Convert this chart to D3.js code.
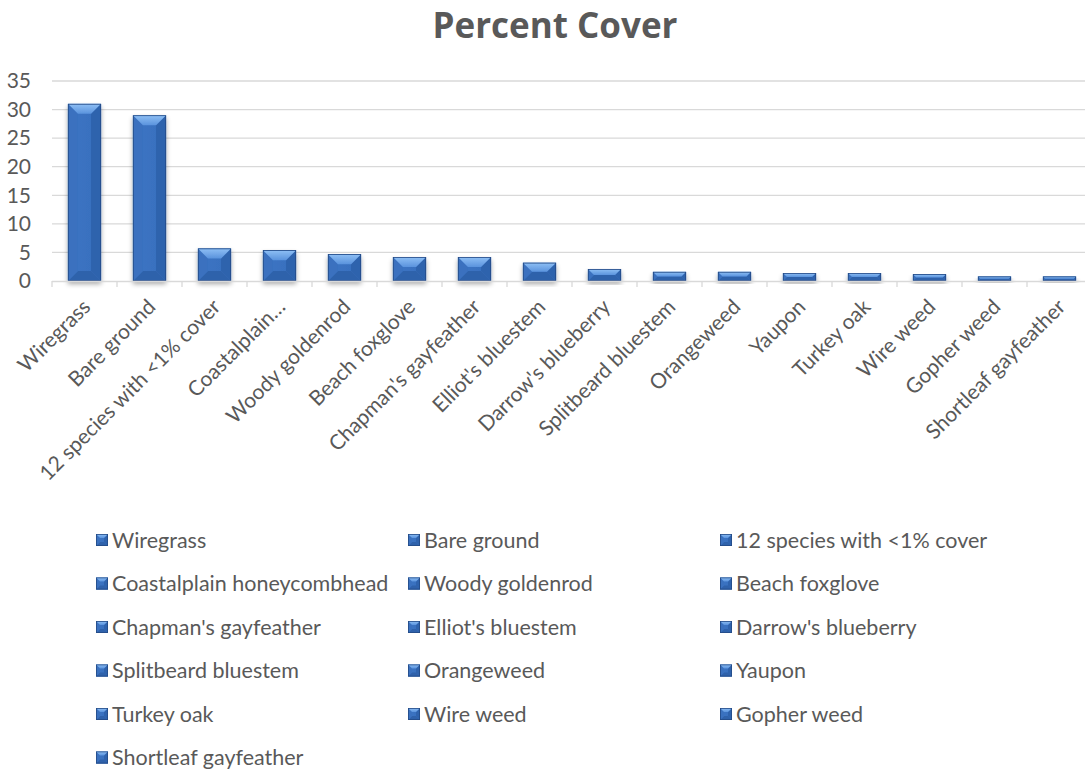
<!DOCTYPE html>
<html>
<head>
<meta charset="utf-8">
<script src="https://cdn.jsdelivr.net/npm/d3@7"></script>
<style>
  body { margin: 0; background: #ffffff; }
  text { font-family: Lato, "Open Sans", sans-serif; fill: #595959; }
</style>
</head>
<body>
<svg id="chart" width="1085" height="778"></svg>
<script>
// Species cover data
const categories = [
  "Wiregrass", "Bare ground", "12 species with <1% cover", "Coastalplain honeycombhead",
  "Woody goldenrod", "Beach foxglove", "Chapman's gayfeather", "Elliot's bluestem",
  "Darrow's blueberry", "Splitbeard bluestem", "Orangeweed", "Yaupon",
  "Turkey oak", "Wire weed", "Gopher weed", "Shortleaf gayfeather"
];
const axisLabels = [
  "Wiregrass", "Bare ground", "12 species with <1% cover", "Coastalplain…",
  "Woody goldenrod", "Beach foxglove", "Chapman's gayfeather", "Elliot's bluestem",
  "Darrow's blueberry", "Splitbeard bluestem", "Orangeweed", "Yaupon",
  "Turkey oak", "Wire weed", "Gopher weed", "Shortleaf gayfeather"
];
const values = [31, 29, 5.7, 5.4, 4.7, 4.2, 4.2, 3.2, 2.1, 1.6, 1.6, 1.4, 1.4, 1.2, 0.8, 0.8];
const yTicks = [0, 5, 10, 15, 20, 25, 30, 35];
const chartTitle = "Percent Cover";

const svg = d3.select("#chart");
const plot = { left: 52, right: 1092, top: 81, bottom: 281 };

const x = d3.scaleBand().domain(categories).range([plot.left, plot.right]).paddingInner(0.49).paddingOuter(0.245);
const xCat = d3.scaleBand().domain(categories).range([plot.left, plot.right]);
const y = d3.scaleLinear().domain([0, 35]).range([plot.bottom, plot.top]);

// gradients and shadow
const defs = svg.append("defs");
const topGrad = defs.append("linearGradient").attr("id", "topGrad").attr("x1", 0).attr("y1", 0).attr("x2", 0).attr("y2", 1);
topGrad.append("stop").attr("offset", "0%").attr("stop-color", "#8fc0f5");
topGrad.append("stop").attr("offset", "100%").attr("stop-color", "#5a93dd");
const faceGrad = defs.append("linearGradient").attr("id", "faceGrad").attr("x1", 0).attr("y1", 0).attr("x2", 1).attr("y2", 0);
faceGrad.append("stop").attr("offset", "0%").attr("stop-color", "#3c75c4");
faceGrad.append("stop").attr("offset", "100%").attr("stop-color", "#386fbd");
const shadow = defs.append("filter").attr("id", "barShadow").attr("x", "-30%").attr("y", "-30%").attr("width", "160%").attr("height", "160%");
shadow.append("feGaussianBlur").attr("in", "SourceAlpha").attr("stdDeviation", 2.5).attr("result", "blur");
shadow.append("feOffset").attr("in", "blur").attr("dx", 0).attr("dy", 3).attr("result", "off");
shadow.append("feComponentTransfer").attr("in", "off").attr("result", "soft")
  .append("feFuncA").attr("type", "linear").attr("slope", 0.35);
const merge = shadow.append("feMerge");
merge.append("feMergeNode").attr("in", "soft");
merge.append("feMergeNode").attr("in", "SourceGraphic");

// title
svg.append("text")
  .attr("x", 555).attr("y", 38)
  .attr("text-anchor", "middle")
  .style("font-family", "'Open Sans', sans-serif")
  .style("font-size", "35px").style("font-weight", "bold")
  .text(chartTitle);

// gridlines
svg.append("g").selectAll("line").data(yTicks.filter(d => d > 0)).join("line")
  .attr("x1", plot.left).attr("x2", plot.right)
  .attr("y1", d => y(d)).attr("y2", d => y(d))
  .attr("stroke", "#d9d9d9").attr("stroke-width", 1.3);

// y axis labels
const yAxis = d3.axisLeft(y).tickValues(yTicks).tickSize(0).tickPadding(0);
svg.append("g").attr("transform", `translate(31,0)`).call(yAxis)
  .call(g => g.select(".domain").remove())
  .selectAll("text").style("font-size", "21px").attr("fill", "#595959")
  .style("font-family", "Lato, sans-serif");

// bars with bevelled faces
function bevel(g, bx, by, bw, bh, depth) {
  const b = Math.min(depth, bw / 2, bh / 2);
  const x0 = bx, x1 = bx + bw, y0 = by, y1 = by + bh;
  const poly = pts => pts.map(p => p.join(",")).join(" ");
  g.append("rect").attr("x", x0).attr("y", y0).attr("width", bw).attr("height", bh).attr("fill", "url(#faceGrad)");
  g.append("polygon").attr("points", poly([[x0, y1], [x0 + b, y1 - b], [x1 - b, y1 - b], [x1, y1]])).attr("fill", "#2f62ab");
  g.append("polygon").attr("points", poly([[x0, y0], [x0 + b, y0 + b], [x0 + b, y1 - b], [x0, y1]])).attr("fill", "#3a71bf");
  g.append("polygon").attr("points", poly([[x1, y0], [x1 - b, y0 + b], [x1 - b, y1 - b], [x1, y1]])).attr("fill", "#2f63ad");
  g.append("polygon").attr("points", poly([[x0, y0], [x1, y0], [x1 - b, y0 + b], [x0 + b, y0 + b]])).attr("fill", "url(#topGrad)");
  g.append("rect").attr("x", x0 + 0.4).attr("y", y0 + 0.4).attr("width", bw - 0.8).attr("height", bh - 0.8)
    .attr("fill", "none").attr("stroke", "#234a85").attr("stroke-width", 0.8);
}

const barsG = svg.append("g");
categories.forEach((c, i) => {
  const g = barsG.append("g").attr("filter", "url(#barShadow)");
  const h = y(0) - y(values[i]);
  bevel(g, x(c), y(values[i]), x.bandwidth(), h, 10);
});

// x axis line and ticks
const xAxisG = svg.append("g");
xAxisG.append("line").attr("x1", plot.left).attr("x2", plot.right).attr("y1", plot.bottom + 0.5).attr("y2", plot.bottom + 0.5)
  .attr("stroke", "#d9d9d9").attr("stroke-width", 1.3);
xAxisG.selectAll("line.tick").data(categories.concat([null])).join("line").attr("class", "tick")
  .attr("x1", (d, i) => plot.left + i * xCat.step()).attr("x2", (d, i) => plot.left + i * xCat.step())
  .attr("y1", plot.bottom).attr("y2", plot.bottom + 6)
  .attr("stroke", "#d9d9d9").attr("stroke-width", 1.3);

// rotated category labels
xAxisG.selectAll("text.cat").data(categories).join("text").attr("class", "cat")
  .attr("transform", d => `translate(${x(d) + x.bandwidth() / 2 + 2},${plot.bottom + 22}) rotate(-45)`)
  .attr("text-anchor", "end").attr("dy", "0.35em")
  .style("font-size", "21px")
  .text((d, i) => axisLabels[i]);

// legend, three columns
const legendCols = [96, 408, 720];
const legend = svg.append("g");
categories.forEach((c, i) => {
  const col = i % 3, row = Math.floor(i / 3);
  const lx = legendCols[col], ly = 540 + row * 43.5;
  const g = legend.append("g");
  bevel(g, lx, ly - 6, 12, 12, 4);
  g.append("text").attr("x", lx + 16).attr("y", ly).attr("dy", "0.35em")
    .style("font-size", "21.5px").text(c);
});
</script>
</body>
</html>
